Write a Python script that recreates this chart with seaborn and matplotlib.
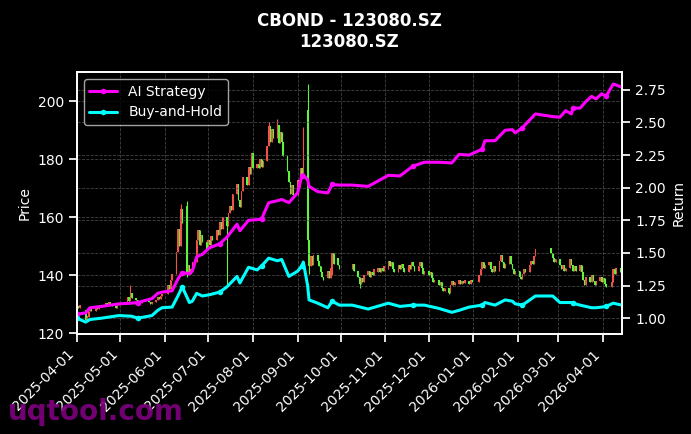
import pandas as pd
import numpy as np
import seaborn as sns
import matplotlib.pyplot as plt
import matplotlib.dates as mdates

# Daily candles as (open, close), one list per month ##########################
apr_2025 = [(128.5, 129.5), (129.5, 128.8), (128.8, 129.6), (128.0, 124.5), (124.5, 125.8),
            (125.5, 127.5), (127.5, 128.2), (128.2, 127.6), (127.8, 129.0), (129.0, 128.4),
            (128.4, 128.9), (128.9, 129.8), (129.8, 129.2), (129.3, 130.4), (130.4, 129.6),
            (129.6, 130.8), (130.8, 130.1), (130.1, 129.5), (129.5, 128.8), (128.8, 129.6),
            (129.6, 130.2)]
may_2025 = [(130.2, 132.5), (132.5, 131.0), (131.0, 133.8), (133.8, 132.2), (132.2, 131.5),
            (131.5, 130.6), (130.6, 131.2), (131.2, 130.4), (130.4, 131.0), (131.0, 131.8),
            (131.8, 131.2), (131.2, 130.8), (130.8, 130.2), (130.2, 130.9), (130.9, 131.6),
            (131.6, 132.4), (132.4, 131.9), (131.9, 132.8), (132.8, 133.4)]
jun_2025 = [(133.5, 136.5), (136.5, 135.2), (135.2, 138.5), (138.5, 140.5), (140.5, 148.0),
            (148.0, 156.0), (156.0, 150.0), (150.0, 163.0), (163.0, 158.0), (164.0, 141.0),
            (141.0, 143.5), (143.5, 140.5), (140.5, 142.0), (142.0, 144.5), (144.5, 152.0),
            (152.0, 155.5), (155.5, 150.5), (150.5, 154.0), (154.0, 151.5), (151.5, 149.0)]
jul_2025 = [(149.0, 152.0), (152.0, 150.5), (150.5, 153.5), (153.5, 152.0), (152.0, 155.5),
            (155.5, 154.0), (154.0, 158.5), (158.5, 156.0), (156.0, 160.0), (160.0, 157.0),
            (157.0, 161.5), (161.5, 164.0), (164.0, 162.5), (162.5, 168.0), (168.0, 171.5),
            (171.5, 166.0), (166.0, 163.5), (163.5, 169.0), (169.0, 174.0), (174.0, 171.0),
            (171.0, 177.5), (177.5, 175.0), (175.0, 182.0)]
aug_2025 = [(182.0, 177.0), (177.0, 178.5), (178.5, 177.0), (177.0, 180.0), (180.0, 177.5),
            (177.5, 179.5), (179.5, 184.5), (184.5, 191.5), (191.5, 186.0), (186.0, 190.5),
            (190.5, 187.5), (187.5, 192.0), (192.0, 185.5), (185.5, 189.5), (189.5, 186.0),
            (186.0, 181.0), (181.0, 176.0), (176.0, 172.0), (172.0, 168.0), (168.0, 171.0),
            (171.0, 167.5)]
sep_2025 = [(167.5, 173.0), (173.0, 170.5), (170.5, 177.0), (177.0, 174.0), (174.0, 189.0),
            (197.0, 152.0), (152.0, 143.0), (143.0, 146.5), (146.5, 143.5), (143.5, 147.0),
            (147.0, 145.0), (145.0, 143.0), (143.0, 141.0), (141.0, 139.5), (139.5, 138.5),
            (139.0, 141.5), (141.5, 139.0), (139.0, 142.5), (140.0, 147.5), (147.5, 144.0),
            (146.0, 143.5), (143.5, 142.0)]
oct_2025 = [(142.0, 144.0), (144.0, 141.5), (141.5, 139.5), (139.5, 137.0), (137.0, 139.0),
            (139.0, 137.5), (137.5, 140.0), (140.0, 141.5), (141.5, 139.5), (139.5, 141.0),
            (141.0, 140.0), (140.0, 142.0), (141.0, 142.5), (142.5, 141.0), (141.0, 142.5),
            (142.5, 141.5), (141.5, 143.0)]
nov_2025 = [(142.0, 145.0), (145.0, 143.0), (143.0, 144.5), (144.5, 142.0), (142.0, 141.0),
            (141.0, 143.5), (143.5, 142.0), (142.0, 144.0), (144.0, 142.5), (142.5, 141.0),
            (141.0, 143.5), (143.5, 142.0), (142.0, 144.5), (144.5, 143.0), (143.0, 141.5),
            (141.5, 143.0), (143.0, 144.5), (144.5, 142.5), (142.5, 140.5), (140.5, 141.5)]
dec_2025 = [(141.5, 140.0), (140.0, 141.0), (141.0, 139.0), (139.0, 137.5), (137.5, 138.5),
            (138.5, 136.5), (136.5, 137.5), (137.5, 135.5), (135.5, 134.5), (134.5, 135.5),
            (135.5, 134.0), (134.0, 136.5), (136.5, 138.0), (138.0, 136.5), (136.5, 137.5),
            (137.0, 138.5), (138.5, 137.0), (137.0, 138.0), (138.0, 137.2), (137.2, 138.2),
            (138.0, 137.0), (137.0, 138.5), (138.5, 137.5)]
jan_2026 = [(137.5, 140.0), (140.0, 142.0), (142.0, 144.5), (144.5, 142.5), (142.5, 143.5),
            (143.5, 144.5), (144.5, 142.0), (142.0, 141.0), (141.0, 143.0), (143.0, 141.5),
            (141.5, 145.0), (145.0, 147.0), (147.0, 144.5), (144.5, 142.5), (142.5, 144.0),
            (144.0, 146.5), (146.5, 144.0), (144.0, 142.0), (142.0, 140.5), (140.5, 141.5)]
feb_2026 = [(141.5, 139.5), (139.5, 138.8), (138.8, 140.5), (140.5, 142.0), (142.0, 141.0),
            (141.0, 143.5), (143.5, 145.0), (145.0, 144.0), (144.0, 146.5), (146.5, 149.0),
            (149.5, 147.5), (147.5, 146.0), (146.0, 144.5), (144.5, 145.5)]
mar_2026 = [(145.5, 143.5), (143.5, 142.0), (142.0, 143.5), (143.5, 141.5), (141.5, 142.5),
            (142.5, 145.5), (145.5, 143.5), (143.5, 141.5), (141.5, 143.0), (143.0, 141.5),
            (141.5, 143.5), (143.5, 141.0), (141.0, 138.5), (138.5, 136.5), (136.5, 139.5),
            (139.5, 137.5), (137.5, 140.0), (140.0, 138.0), (138.0, 136.5), (136.5, 138.0),
            (138.0, 139.5), (139.5, 137.5)]
apr_2026 = [(137.5, 139.0), (139.0, 137.0), (137.0, 136.0), (136.0, 137.5), (137.5, 142.0),
            (142.0, 140.5), (140.5, 142.5), (142.5, 141.0), (141.0, 140.0)]

# Long shadows that stick out of the bodies
wick_high = {'2025-05-08': 136.5, '2025-06-12': 164.5, '2025-06-16': 165.5,
             '2025-08-12': 193.0, '2025-08-18': 194.0, '2025-09-05': 191.0,
             '2025-09-08': 206.0}
wick_low = {'2025-04-07': 123.8, '2025-06-16': 139.5, '2025-07-14': 137.0,
            '2025-09-08': 150.0, '2025-09-09': 140.5, '2025-10-14': 135.6,
            '2025-12-15': 133.5}

market_closed = ['2025-04-04', '2025-05-01', '2025-05-02', '2025-05-05', '2025-06-02',
                 '2025-10-01', '2025-10-02', '2025-10-03', '2025-10-06', '2025-10-07',
                 '2025-10-08', '2026-01-01', '2026-01-02', '2026-02-16', '2026-02-17',
                 '2026-02-18', '2026-02-19', '2026-02-20', '2026-02-23', '2026-04-06']

# Strategy curves ##############################################################
line_dates = ['2025-04-01', '2025-04-07', '2025-04-10', '2025-04-18', '2025-04-30',
              '2025-05-09', '2025-05-13', '2025-05-23', '2025-05-27', '2025-05-30',
              '2025-06-06', '2025-06-10', '2025-06-13', '2025-06-18', '2025-06-20',
              '2025-06-23', '2025-06-27', '2025-07-02', '2025-07-09', '2025-07-14',
              '2025-07-21', '2025-07-23', '2025-07-29', '2025-08-04', '2025-08-07',
              '2025-08-12', '2025-08-18', '2025-08-21', '2025-08-26', '2025-09-01',
              '2025-09-04', '2025-09-05', '2025-09-08', '2025-09-09', '2025-09-15',
              '2025-09-22', '2025-09-25', '2025-09-30', '2025-10-09', '2025-10-20',
              '2025-11-03', '2025-11-11', '2025-11-20', '2025-11-28', '2025-12-08',
              '2025-12-17', '2025-12-22', '2025-12-29', '2026-01-07', '2026-01-09',
              '2026-01-16', '2026-01-23', '2026-01-28', '2026-01-30', '2026-02-04',
              '2026-02-13', '2026-02-25', '2026-03-02', '2026-03-06', '2026-03-10',
              '2026-03-11', '2026-03-16', '2026-03-20', '2026-03-24', '2026-03-27',
              '2026-03-31', '2026-04-03', '2026-04-08', '2026-04-14']
ai_strategy = [1.03, 1.04, 1.08, 1.09, 1.11, 1.115, 1.12, 1.15, 1.19, 1.20,
               1.21, 1.30, 1.35, 1.34, 1.36, 1.47, 1.49, 1.54, 1.57, 1.62,
               1.72, 1.67, 1.75, 1.755, 1.76, 1.885, 1.90, 1.91, 1.885, 1.96,
               2.09, 2.10, 2.06, 2.01, 1.97, 1.96, 2.025, 2.02, 2.02, 2.01,
               2.095, 2.09, 2.165, 2.195, 2.195, 2.19, 2.255, 2.25, 2.295, 2.36,
               2.36, 2.44, 2.445, 2.42, 2.46, 2.565, 2.545, 2.54, 2.59, 2.565,
               2.61, 2.61, 2.66, 2.70, 2.68, 2.72, 2.70, 2.795, 2.77]
buy_hold = [1.00, 0.97, 0.99, 1.00, 1.02, 1.015, 1.00, 1.02, 1.06, 1.08,
            1.085, 1.17, 1.24, 1.12, 1.13, 1.19, 1.17, 1.18, 1.20, 1.24,
            1.32, 1.27, 1.39, 1.37, 1.40, 1.46, 1.44, 1.45, 1.32, 1.36,
            1.40, 1.43, 1.25, 1.14, 1.115, 1.08, 1.13, 1.10, 1.10, 1.07,
            1.115, 1.09, 1.10, 1.10, 1.075, 1.045, 1.06, 1.085, 1.10, 1.12,
            1.10, 1.14, 1.13, 1.11, 1.10, 1.17, 1.17, 1.12, 1.12, 1.12,
            1.115, 1.10, 1.09, 1.08, 1.08, 1.085, 1.09, 1.115, 1.10]

# Building the frames ##########################################################
days = pd.bdate_range('2025-04-01', '2026-04-14')
days = days[~days.isin(pd.to_datetime(market_closed))]

pairs = (apr_2025 + may_2025 + jun_2025 + jul_2025 + aug_2025 + sep_2025 + oct_2025
         + nov_2025 + dec_2025 + jan_2026 + feb_2026 + mar_2026 + apr_2026)
assert len(pairs) == len(days)

df = pd.DataFrame(pairs, columns=['open', 'close'])
df['date'] = days
df['body_low'] = df[['open', 'close']].min(axis=1)
df['body_h'] = (df['close'] - df['open']).abs()
df['high'] = df[['open', 'close']].max(axis=1)
df['low'] = df['body_low']
for d, v in wick_high.items():
    df.loc[df['date'] == d, 'high'] = v
for d, v in wick_low.items():
    df.loc[df['date'] == d, 'low'] = v

df_lines = pd.DataFrame({'date': pd.to_datetime(line_dates),
                         'ai': ai_strategy,
                         'bh': buy_hold})

# Plot #########################################################################
sns.set_theme(style='ticks', rc={
    'figure.facecolor': 'black', 'axes.facecolor': 'black',
    'axes.edgecolor': 'white', 'axes.labelcolor': 'white',
    'text.color': 'white', 'xtick.color': 'white', 'ytick.color': 'white',
    'grid.color': '#5a5a5a', 'grid.linestyle': '--', 'grid.linewidth': 0.6,
    'xtick.labelsize': 10, 'ytick.labelsize': 10, 'axes.labelsize': 10,
})
plt.rcParams['font.family'] = ['DejaVu Sans']

RED = '#f0524a'
GREEN = '#5cf43c'

fig, ax = plt.subplots(figsize=(6.91, 4.34), dpi=100)
fig.subplots_adjust(left=0.1114, right=0.9, bottom=0.2304, top=0.834)

colors = np.where(df['close'] >= df['open'], RED, GREEN)
ax.vlines(df['date'], df['low'], df['high'], colors=colors, linewidth=0.8)
ax.bar(df['date'], df['body_h'], bottom=df['body_low'], width=1.1,
       color=colors, linewidth=0)

ax.set_ylabel('Price')
ax.grid(True, alpha=0.75)

ax2 = ax.twinx()
sns.lineplot(data=df_lines, x='date', y='ai', ax=ax2, color='#ff00ff', linewidth=2.2,
             marker='o', markersize=4, markeredgewidth=0, markevery=6, label='AI Strategy')
sns.lineplot(data=df_lines, x='date', y='bh', ax=ax2, color='#00ffff', linewidth=2.2,
             marker='o', markersize=4, markeredgewidth=0, markevery=6, label='Buy-and-Hold')
ax2.set_ylabel('Return')
ax2.grid(True, axis='y', alpha=0.75)
for s in ax2.spines.values():
    s.set_color('white')

leg = ax2.legend(loc='upper left', fontsize=10, facecolor='black', edgecolor='#cccccc',
                 framealpha=0.8)
for t in leg.get_texts():
    t.set_color('white')

ax.set_xlim(pd.Timestamp('2025-04-01'), pd.Timestamp('2026-04-14'))
ax.xaxis.set_major_locator(mdates.MonthLocator())
ax.xaxis.set_major_formatter(mdates.DateFormatter('%Y-%m-%d'))
ax.set_xlabel('')
plt.setp(ax.get_xticklabels(), rotation=45, ha='right')

ax.set_title('CBOND - 123080.SZ\n123080.SZ', fontsize=12, fontweight='bold',
             color='white', pad=18)

fig.text(0.012, 0.033, 'uqtool.com', color='#800080', fontsize=20,
         fontweight='bold', alpha=0.9)

plt.savefig('out.png', dpi=100, facecolor='black')
